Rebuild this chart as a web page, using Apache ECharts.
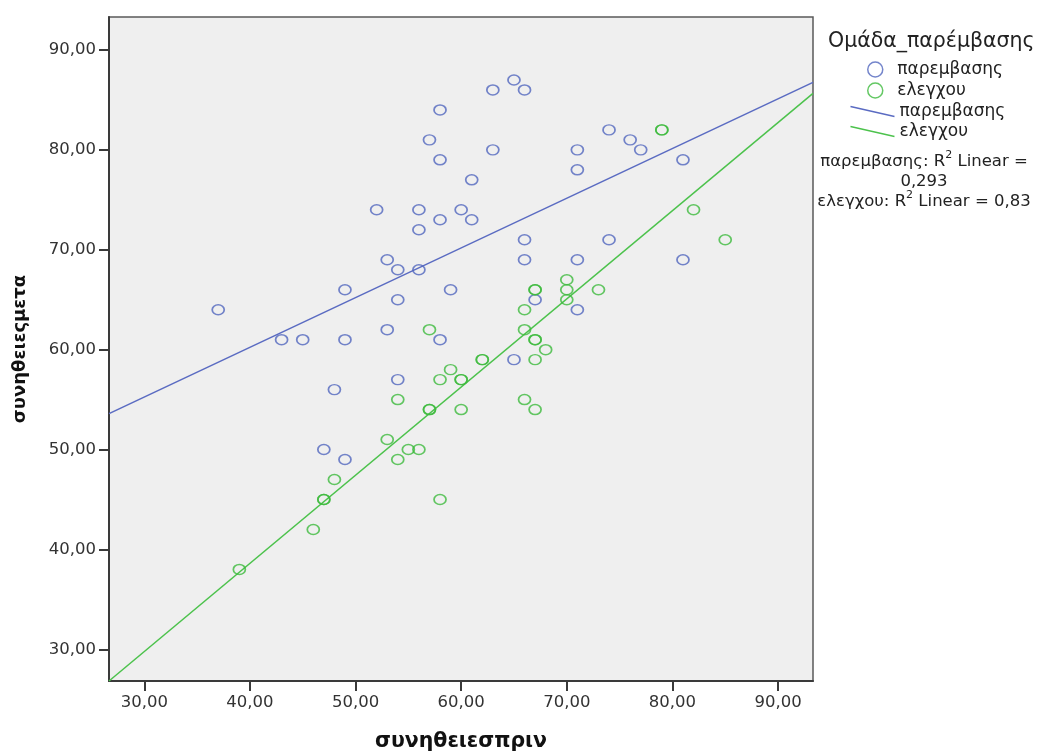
<!DOCTYPE html>
<html>
<head>
<meta charset="utf-8">
<script src="https://cdn.jsdelivr.net/npm/echarts@6/dist/echarts.min.js"></script>
<style>
html,body{margin:0;padding:0;background:#fff;}
#chart{width:1041px;height:751px;}
</style>
</head>
<body>
<div id="chart"></div>
<script>
// ---- data ----
const groupNames = ['παρεμβασης', 'ελεγχου'];
const blueX = [58,57,58,52,56,60,58,56,53,54,56,49,54,59,37,53,43,45,49,58,65,63,66,63,61,71,71,74,76,77,81,61,66,74,66,71,81,67,71,65,54,48,47,49];
const blueY = [84,81,79,74,74,74,73,72,69,68,68,66,65,66,64,62,61,61,61,61,87,86,86,80,77,80,78,82,81,80,79,73,71,71,69,69,69,65,64,59,57,56,50,49];
const greenX = [57,79,79,82,85,67,67,70,70,70,73,66,66,67,67,68,62,62,67,59,58,60,60,54,57,57,60,53,55,56,54,48,47,47,58,46,39,66,67];
const greenY = [62,82,82,74,71,66,66,67,66,65,66,64,62,61,61,60,59,59,59,58,57,57,57,55,54,54,54,51,50,50,49,47,45,45,45,42,38,55,54];
// fit lines (endpoints read at the plot edges)
const blueFitX = [26.66, 93.31];
const blueFitY = [53.6, 86.76];
const greenFitX = [26.66, 93.31];
const greenFitY = [26.83, 85.66];
const tickValues = [30, 40, 50, 60, 70, 80, 90];
const xName = 'συνηθειεσπριν';
const yName = 'συνηθειεςμετα';
const legendTitle = 'Ομάδα_παρέμβασης';
const r2Blue = '0,293';
const r2Green = '0,83';

const BLUE = '#5166be', GREEN = '#3dba3d';
const BLUE_LINE = '#5a6bc2', GREEN_LINE = '#4cc24c';
const FONT = 'DejaVu Sans';
const fmt = v => v.toFixed(2).replace('.', ',');
const zip = (a, b) => a.map((v, i) => [v, b[i]]);

const chart = echarts.init(document.getElementById('chart'), null, {renderer: 'canvas'});
const axisCommon = {
  axisLine: {show: true, onZero: false, lineStyle: {color: '#3a3a3a', width: 2}},
  axisTick: {show: true, length: 10, inside: false, lineStyle: {color: '#3a3a3a', width: 2}, customValues: tickValues},
  axisLabel: {customValues: tickValues, formatter: fmt, color: '#333', fontFamily: FONT, fontSize: 16.5, margin: 13},
  splitLine: {show: false},
  nameLocation: 'middle'
};
const richR2 = {
  t: {fontFamily: FONT, fontSize: 16.5, lineHeight: 20, verticalAlign: 'bottom'},
  s: {fontFamily: FONT, fontSize: 11, lineHeight: 20, verticalAlign: 'top', padding: [0, 0, 8, 0]}
};
chart.setOption({
  animation: false,
  grid: {left: 109, top: 17, right: 228, bottom: 70, outerBoundsMode: 'none', containLabel: false,
    show: true, backgroundColor: '#efefef', borderColor: '#5a5a5a', borderWidth: 1.5},
  xAxis: Object.assign({}, axisCommon, {type: 'value', min: 26.66, max: 93.31, name: xName, nameGap: 50,
    nameTextStyle: {fontFamily: FONT, fontWeight: 'bold', fontSize: 20.5, color: '#111'}}),
  yAxis: Object.assign({}, axisCommon, {type: 'value', min: 26.83, max: 93.3, name: yName, nameGap: 80, nameRotate: 90,
    nameTextStyle: {fontFamily: FONT, fontWeight: 'bold', fontSize: 18, color: '#111'}}),
  legend: [
    {orient: 'vertical', left: 862, top: 56, itemWidth: 18, itemHeight: 15, itemGap: 4,
     textStyle: {fontFamily: FONT, fontSize: 17, color: '#222', padding: [0, 0, 0, 8]},
     data: [
       {name: groupNames[0], icon: 'circle', itemStyle: {color: 'rgba(0,0,0,0)', borderColor: BLUE, borderWidth: 1.5}},
       {name: groupNames[1], icon: 'circle', itemStyle: {color: 'rgba(0,0,0,0)', borderColor: GREEN, borderWidth: 1.5}}
     ]},
    {orient: 'vertical', left: 843, top: 98, itemWidth: 44, itemHeight: 15, itemGap: 3,
     textStyle: {fontFamily: FONT, fontSize: 17, color: '#222'},
     data: [
       {name: groupNames[0] + ' ', icon: 'path://M0,0L44,10', itemStyle: {color: 'none', borderColor: BLUE_LINE, borderWidth: 1.3}},
       {name: groupNames[1] + ' ', icon: 'path://M0,0L44,10', itemStyle: {color: 'none', borderColor: GREEN_LINE, borderWidth: 1.3}}
     ]}
  ],
  graphic: [
    {type: 'text', left: 828, top: 31, style: {text: legendTitle, font: '20.5px "DejaVu Sans"', fill: '#222'}},
    {type: 'text', x: 924, y: 150, style: {
      text: '{t|' + groupNames[0] + ': R}{s|2}{t| Linear =}\n{t|' + r2Blue + '}',
      align: 'center', fill: '#222', rich: richR2
    }},
    {type: 'text', x: 924, y: 190, style: {
      text: '{t|' + groupNames[1] + ': R}{s|2}{t| Linear = ' + r2Green + '}',
      align: 'center', fill: '#222', rich: richR2
    }}
  ],
  series: [
    {name: groupNames[0], type: 'scatter', data: zip(blueX, blueY), symbol: 'circle', symbolSize: [12, 10],
     itemStyle: {color: 'rgba(0,0,0,0)', borderColor: BLUE, borderWidth: 1.6}, z: 3},
    {name: groupNames[1], type: 'scatter', data: zip(greenX, greenY), symbol: 'circle', symbolSize: [12, 10],
     itemStyle: {color: 'rgba(0,0,0,0)', borderColor: GREEN, borderWidth: 1.6}, z: 3},
    {name: groupNames[0] + ' ', type: 'line', data: zip(blueFitX, blueFitY), symbol: 'none',
     lineStyle: {color: BLUE_LINE, width: 1.5}, itemStyle: {color: BLUE_LINE}, z: 2},
    {name: groupNames[1] + ' ', type: 'line', data: zip(greenFitX, greenFitY), symbol: 'none',
     lineStyle: {color: GREEN_LINE, width: 1.5}, itemStyle: {color: GREEN_LINE}, z: 2}
  ]
});
</script>
</body>
</html>
